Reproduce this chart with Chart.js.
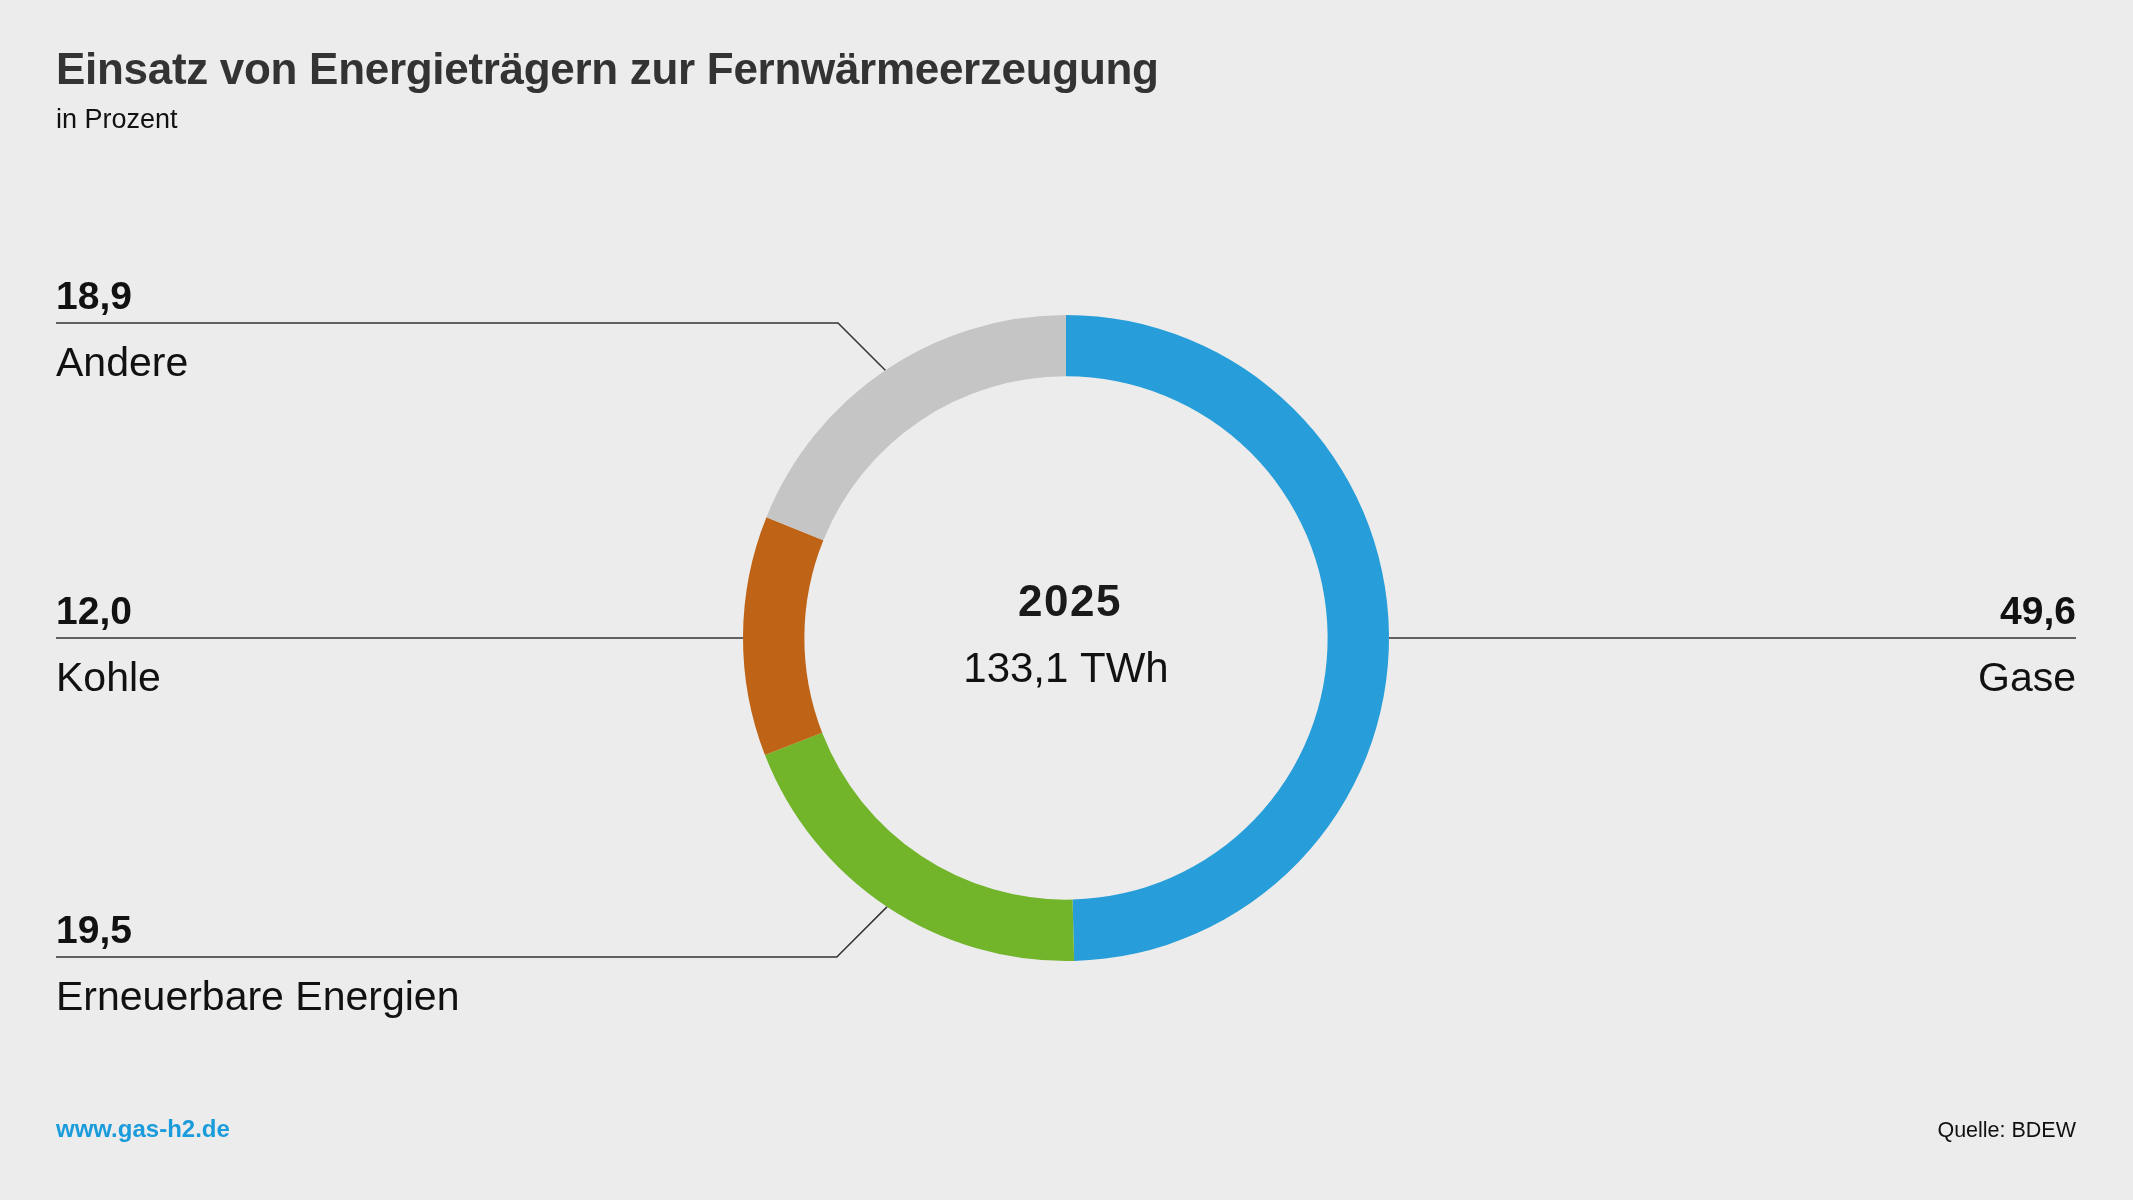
<!DOCTYPE html>
<html lang="de">
<head>
<meta charset="utf-8">
<title>Einsatz von Energieträgern zur Fernwärmeerzeugung</title>
<script src="https://cdn.jsdelivr.net/npm/chart.js@4.4.1/dist/chart.umd.min.js"></script>
<style>
  html, body { margin: 0; padding: 0; background: #ececec; }
  #wrap { width: 2133px; height: 1200px; position: relative; }
  canvas { display: block; }
</style>
</head>
<body>
<div id="wrap"><canvas id="c" width="2133" height="1200"></canvas></div>
<script>
// ---- Data ----
const title = 'Einsatz von Energieträgern zur Fernwärmeerzeugung';
const subtitle = 'in Prozent';
const categories = ['Gase', 'Erneuerbare Energien', 'Kohle', 'Andere'];
const values = [49.6, 19.5, 12.0, 18.9];
const colors = ['#279ed9', '#72b52b', '#bf6416', '#c6c5c5'];
const centerYear = '2025';
const centerTotal = '133,1 TWh';
const sourceUrl = 'www.gas-h2.de';
const sourceText = 'Quelle: BDEW';

// ---- Layout (positions / styles) ----
const FONT = "'Liberation Sans', Arial, Helvetica, sans-serif";
const leftX = 56, rightX = 2076;
const labelSide = ['right', 'left', 'left', 'left'];
const lineOffset = [0, 319, 0, -315];   // y of the label rule relative to donut centre

const fmt = v => v.toFixed(1).replace('.', ',');

function setSpacing(ctx, px) {
  if ('letterSpacing' in ctx) ctx.letterSpacing = px + 'px';
}

const bgPlugin = {
  id: 'bg',
  beforeDraw(chart) {
    const ctx = chart.ctx;
    ctx.save();
    ctx.fillStyle = '#ececec';
    ctx.fillRect(0, 0, chart.width, chart.height);
    ctx.restore();
  }
};

const annotPlugin = {
  id: 'annot',
  afterDraw(chart) {
    const ctx = chart.ctx;
    const meta = chart.getDatasetMeta(0);
    ctx.save();
    // title
    ctx.textAlign = 'left';
    ctx.textBaseline = 'alphabetic';
    ctx.fillStyle = '#333333';
    ctx.font = `bold 44px ${FONT}`;
    setSpacing(ctx, -0.3);
    ctx.fillText(title, leftX, 84);
    setSpacing(ctx, 0);
    ctx.fillStyle = '#111111';
    ctx.font = `27px ${FONT}`;
    ctx.fillText(subtitle, leftX, 128);

    let cx = 0;
    meta.data.forEach((arc, i) => {
      const p = arc.getProps(['x', 'y', 'startAngle', 'endAngle', 'outerRadius'], true);
      cx = p.x;
      const R = p.outerRadius;
      const mid = (p.startAngle + p.endAngle) / 2;
      const px = p.x + Math.cos(mid) * R;
      const py = p.y + Math.sin(mid) * R;
      const lineY = p.y + lineOffset[i];
      const side = labelSide[i];
      const dir = side === 'left' ? -1 : 1;

      ctx.strokeStyle = '#333333';
      ctx.lineWidth = 1.5;
      ctx.beginPath();
      const dy = Math.abs(py - lineY);
      if (dy < 12) {
        const ex = p.x + dir * Math.sqrt(Math.max(0, R * R - (lineY - p.y) * (lineY - p.y)));
        ctx.moveTo(side === 'left' ? leftX : rightX, lineY);
        ctx.lineTo(ex, lineY);
      } else {
        const elbowX = px + dir * dy;
        ctx.moveTo(side === 'left' ? leftX : rightX, lineY);
        ctx.lineTo(elbowX, lineY);
        ctx.lineTo(px, py);
      }
      ctx.stroke();

      const tx = side === 'left' ? leftX : rightX;
      ctx.textAlign = side === 'left' ? 'left' : 'right';
      ctx.fillStyle = '#111111';
      ctx.font = `bold 39px ${FONT}`;
      ctx.fillText(fmt(values[i]), tx, lineY - 14);
      ctx.font = `41px ${FONT}`;
      ctx.fillText(categories[i], tx, lineY + 53);
    });

    // centre text
    ctx.textAlign = 'center';
    ctx.fillStyle = '#1a1a1a';
    ctx.font = `bold 44px ${FONT}`;
    setSpacing(ctx, 1.5);
    ctx.fillText(centerYear, cx + 4, 616);
    setSpacing(ctx, 0);
    ctx.fillStyle = '#111111';
    ctx.font = `42px ${FONT}`;
    ctx.fillText(centerTotal, cx, 682);

    // footer
    ctx.textAlign = 'left';
    ctx.fillStyle = '#1a9bdb';
    ctx.font = `bold 24px ${FONT}`;
    ctx.fillText(sourceUrl, leftX, 1137);
    ctx.textAlign = 'right';
    ctx.fillStyle = '#111111';
    ctx.font = `21.5px ${FONT}`;
    ctx.fillText(sourceText, rightX, 1137);
    ctx.restore();
  }
};

new Chart(document.getElementById('c'), {
  type: 'doughnut',
  data: {
    labels: categories,
    datasets: [{
      data: values,
      backgroundColor: colors,
      borderWidth: 0,
      hoverOffset: 0
    }]
  },
  options: {
    responsive: false,
    devicePixelRatio: 1,
    animation: false,
    cutout: '81%',
    rotation: 0,
    layout: { padding: { top: 315, bottom: 239, left: 743, right: 744 } },
    plugins: {
      legend: { display: false },
      tooltip: { enabled: false },
      title: { display: false }
    },
    events: []
  },
  plugins: [bgPlugin, annotPlugin]
});
</script>
</body>
</html>
